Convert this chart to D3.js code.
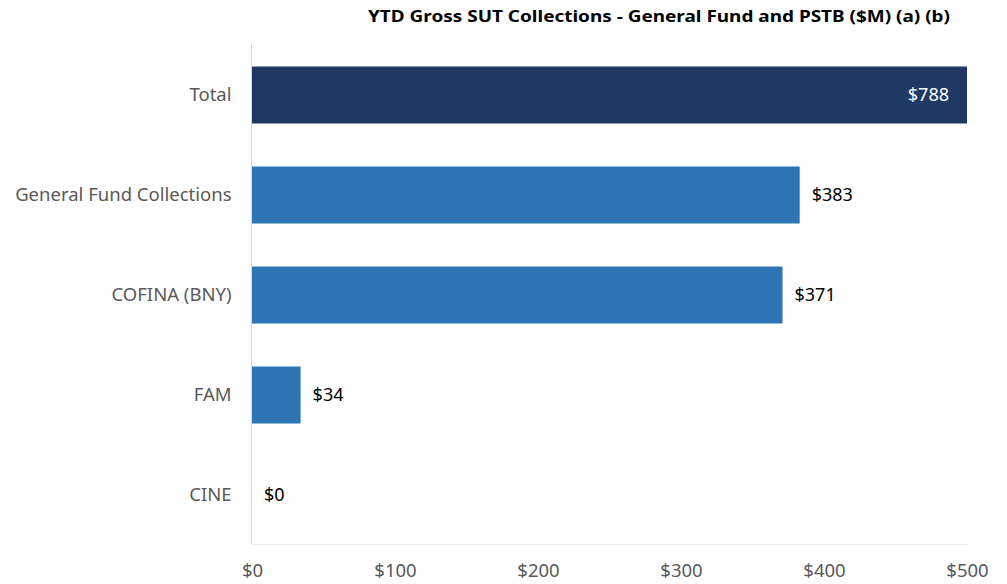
<!DOCTYPE html>
<html>
<head>
<meta charset="utf-8">
<script src="https://cdn.jsdelivr.net/npm/d3@7"></script>
<style>
  body { margin: 0; background: #fff; }
  svg { font-family: "Noto Sans", "Open Sans", sans-serif; }
</style>
</head>
<body>
<svg id="grafico"></svg>
<script>
const largura = 1007;
const altura = 584;
const margem = { top: 44, right: 40, bottom: 40, left: 252 };
const fonte = "'Noto Sans', 'Open Sans', sans-serif";

const categorias = ["Total", "General Fund Collections", "COFINA (BNY)", "FAM", "CINE"];
const valores = [788, 383, 371, 34, 0];
const ticks = [0, 100, 200, 300, 400, 500];

const svg = d3.select("#grafico")
    .attr("width", largura)
    .attr("height", altura);

// Escalas
const x = d3.scaleLinear()
    .domain([0, 500])
    .range([margem.left, 967]);

const y = d3.scaleBand()
    .domain(categorias)
    .range([margem.top + 1, 545])
    .paddingInner(0.43)
    .paddingOuter(0.215);

// Titulo
svg.append("text")
    .attr("x", 950)
    .attr("y", 22)
    .attr("text-anchor", "end")
    .attr("font-size", 16.5)
    .attr("font-weight", "bold")
    .attr("fill", "#000")
    .attr("textLength", 582)
    .attr("lengthAdjust", "spacingAndGlyphs")
    .text("YTD Gross SUT Collections - General Fund and PSTB ($M) (a) (b)");

// Eixo x
const eixoX = svg.append("g")
    .attr("transform", `translate(0, 544)`)
    .call(d3.axisBottom(x).tickValues(ticks).tickSize(0).tickPadding(20).tickFormat(d => "$" + d));
eixoX.attr("font-family", fonte).attr("font-size", 18.5);
eixoX.select(".domain").attr("stroke", "#ececec");
eixoX.selectAll("text").attr("fill", "#595959");

// Eixo y
const eixoY = svg.append("g")
    .attr("transform", `translate(${margem.left - 0.5}, 0)`)
    .call(d3.axisLeft(y).tickSize(0).tickPadding(20));
eixoY.attr("font-family", fonte).attr("font-size", 18.5);
eixoY.select(".domain").attr("stroke", "#d9d9d9").attr("d", `M0,${margem.top}V544`);
eixoY.selectAll("text").attr("fill", "#595959");

// Barras
svg.append("g")
    .selectAll("rect")
    .data(categorias)
    .join("rect")
    .attr("x", x(0))
    .attr("y", d => y(d))
    .attr("height", y.bandwidth())
    .attr("width", (d, i) => x(Math.min(valores[i], 500)) - x(0))
    .attr("fill", (d, i) => i === 0 ? "#203864" : "#2e75b6");

// Rotulos
svg.append("g")
    .selectAll("text")
    .data(categorias)
    .join("text")
    .attr("x", (d, i) => valores[i] > 500 ? x(500) - 18 : x(valores[i]) + 12)
    .attr("y", d => y(d) + y.bandwidth() / 2)
    .attr("dy", "0.35em")
    .attr("text-anchor", (d, i) => valores[i] > 500 ? "end" : "start")
    .attr("font-size", 18)
    .attr("fill", (d, i) => valores[i] > 500 ? "#fff" : "#000")
    .text((d, i) => "$" + valores[i]);
</script>
</body>
</html>
